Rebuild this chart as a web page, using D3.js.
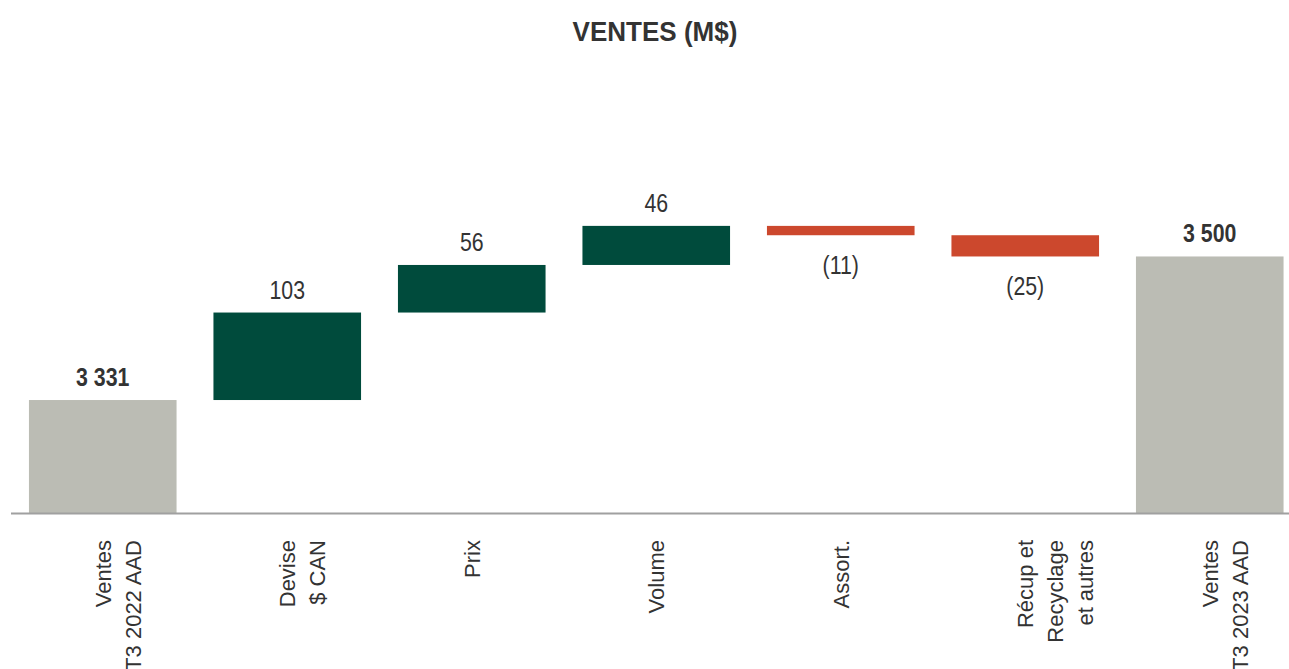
<!DOCTYPE html>
<html>
<head>
<meta charset="utf-8">
<script src="https://cdn.jsdelivr.net/npm/d3@7"></script>
<style>
  html, body { margin: 0; padding: 0; background: #ffffff; }
  svg { display: block; }
</style>
</head>
<body>
<svg id="chart" width="1289" height="669"></svg>
<script>
// ---- data ----
const categories = [
  ["Ventes", "T3 2022 AAD"],
  ["Devise", "$ CAN"],
  ["Prix"],
  ["Volume"],
  ["Assort."],
  ["Récup et", "Recyclage", "et autres"],
  ["Ventes", "T3 2023 AAD"]
];
const values = [3331, 103, 56, 46, -11, -25, 3500];
const kinds = ["total", "delta", "delta", "delta", "delta", "delta", "total"];
const valueLabels = ["3 331", "103", "56", "46", "(11)", "(25)", "3 500"];
const title = "VENTES (M$)";
const yDomain = [3198, 3550];

// ---- build waterfall segments ----
let running = 0;
const bars = values.map((v, i) => {
  let y0, y1;
  if (kinds[i] === "total") {
    y0 = yDomain[0]; y1 = v; running = v;
  } else {
    y0 = running; y1 = running + v; running = y1;
  }
  return { i, v, kind: kinds[i], lo: Math.min(y0, y1), hi: Math.max(y0, y1), label: valueLabels[i], cat: categories[i] };
});

const colors = { total: "#BBBCB4", pos: "#004B3C", neg: "#CC482D" };
const textColor = "#333333";
const narrow = 0.82;

const svg = d3.select("#chart");
const x = d3.scaleBand().domain(d3.range(values.length)).range([10.5, 1302]).paddingInner(0.2).paddingOuter(0.1);
const y = d3.scaleLinear().domain(yDomain).range([513, 214]);

// title
svg.append("g")
  .attr("transform", "translate(655,41) scale(0.93,1)")
  .append("text")
  .attr("text-anchor", "middle")
  .attr("font-family", "'Liberation Sans', Arial, sans-serif")
  .attr("font-weight", "bold")
  .attr("font-size", 28)
  .attr("fill", textColor)
  .text(title);

// bars
svg.append("g").selectAll("rect").data(bars).join("rect")
  .attr("x", d => x(d.i))
  .attr("width", x.bandwidth())
  .attr("y", d => y(d.hi))
  .attr("height", d => y(d.lo) - y(d.hi))
  .attr("fill", d => d.kind === "total" ? colors.total : (d.v >= 0 ? colors.pos : colors.neg));

// baseline
svg.append("line")
  .attr("x1", 11).attr("x2", 1289)
  .attr("y1", y(yDomain[0]) + 0.5).attr("y2", y(yDomain[0]) + 0.5)
  .attr("stroke", "#A0A0A0").attr("stroke-width", 2);

// value labels
svg.append("g").selectAll("g").data(bars).join("g")
  .attr("transform", d => `translate(${x(d.i) + x.bandwidth() / 2},${d.v >= 0 ? y(d.hi) - 14 : y(d.lo) + 39}) scale(${narrow},1)`)
  .append("text")
  .attr("text-anchor", "middle")
  .attr("font-family", "'Liberation Sans', Arial, sans-serif")
  .attr("font-size", 26)
  .attr("font-weight", d => d.kind === "total" ? "bold" : "normal")
  .attr("fill", textColor)
  .text(d => d.label);

// category labels (rotated)
const cg = svg.append("g").selectAll("g").data(bars).join("g")
  .attr("transform", d => `translate(${x(d.i) + x.bandwidth() / 2},540) rotate(-90)`);
cg.append("text")
  .attr("text-anchor", "end")
  .attr("font-family", "'Liberation Sans', Arial, sans-serif")
  .attr("font-size", 22)
  .attr("fill", textColor)
  .selectAll("tspan").data(d => d.cat).join("tspan")
  .attr("x", 0)
  .attr("y", (t, j) => 8 + j * 30)
  .text(t => t);
</script>
</body>
</html>
